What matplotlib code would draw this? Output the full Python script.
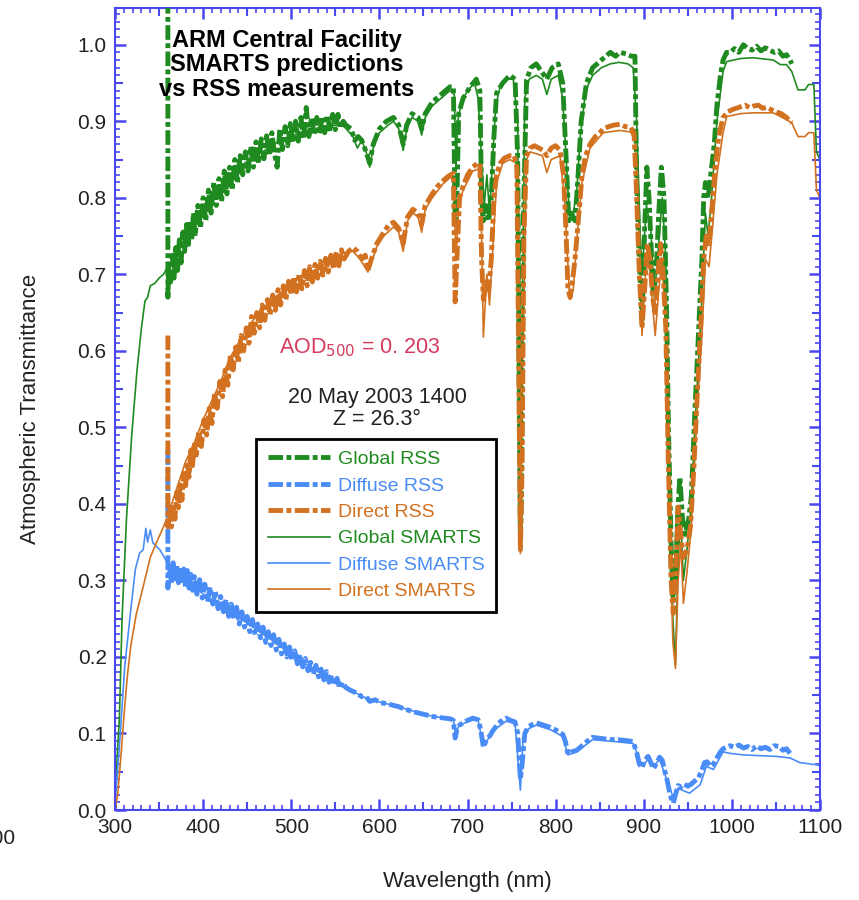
import numpy as np
import matplotlib
matplotlib.use('Agg')
import matplotlib.pyplot as plt
from matplotlib.ticker import MultipleLocator

plt.rcParams['font.family'] = ['Liberation Sans', 'DejaVu Sans']

# --- Data (wavelength nm, transmittance) ---
global_smarts = [
    (300, 0.02), (305, 0.12), (308, 0.25), (313, 0.38), (319, 0.49), (325, 0.575),
    (330, 0.63), (334, 0.665), (337, 0.67), (340, 0.685), (345, 0.688), (350, 0.695),
    (355, 0.70), (360, 0.71), (370, 0.725), (380, 0.75), (390, 0.765), (400, 0.785),
    (410, 0.80), (420, 0.815), (430, 0.825), (440, 0.835), (450, 0.845), (460, 0.855),
    (470, 0.862), (480, 0.87), (490, 0.876), (500, 0.88), (510, 0.885), (520, 0.888),
    (530, 0.89), (540, 0.892), (550, 0.895), (560, 0.893), (570, 0.88), (575, 0.865),
    (580, 0.875), (585, 0.86), (589, 0.84), (593, 0.865), (600, 0.885), (610, 0.895),
    (616, 0.90), (622, 0.89), (627, 0.862), (631, 0.89), (637, 0.905), (644, 0.90),
    (648, 0.882), (652, 0.905), (660, 0.92), (670, 0.93), (680, 0.94), (685, 0.935),
    (687, 0.84), (689, 0.90), (693, 0.925), (700, 0.94), (708, 0.95), (712, 0.93),
    (716, 0.85), (719, 0.79), (722, 0.83), (725, 0.78), (728, 0.84), (732, 0.92),
    (737, 0.945), (745, 0.955), (752, 0.955), (757, 0.90), (760, 0.36), (762, 0.62),
    (765, 0.93), (770, 0.955), (778, 0.96), (785, 0.955), (790, 0.935), (795, 0.955),
    (803, 0.96), (808, 0.93), (812, 0.85), (816, 0.77), (820, 0.78), (824, 0.81),
    (828, 0.88), (834, 0.94), (842, 0.96), (852, 0.97), (862, 0.975), (872, 0.977),
    (882, 0.975), (888, 0.97), (892, 0.90), (896, 0.75), (898, 0.70), (903, 0.79),
    (908, 0.76), (912, 0.67), (917, 0.74), (921, 0.80), (925, 0.72), (929, 0.45),
    (933, 0.25), (936, 0.19), (939, 0.33), (942, 0.38), (945, 0.30), (949, 0.34),
    (954, 0.40), (958, 0.50), (962, 0.58), (966, 0.67), (970, 0.78), (973, 0.75),
    (977, 0.80), (983, 0.90), (990, 0.965), (994, 0.978), (1010, 0.982), (1024, 0.983),
    (1047, 0.98), (1055, 0.974), (1062, 0.974), (1068, 0.965), (1075, 0.941),
    (1083, 0.941), (1087, 0.948), (1093, 0.948), (1096, 0.86), (1100, 0.85),
]

direct_smarts = [
    (300, 0.0), (303, 0.02), (306, 0.06), (310, 0.12), (314, 0.175), (318, 0.215),
    (324, 0.255), (332, 0.292), (340, 0.33), (348, 0.352), (355, 0.37), (360, 0.385),
    (370, 0.42), (380, 0.455), (390, 0.48), (400, 0.51), (410, 0.535), (420, 0.56),
    (430, 0.59), (440, 0.61), (450, 0.63), (460, 0.645), (470, 0.655), (480, 0.668),
    (490, 0.678), (500, 0.688), (510, 0.695), (520, 0.70), (530, 0.708), (540, 0.715),
    (550, 0.722), (560, 0.728), (570, 0.73), (578, 0.72), (587, 0.703), (597, 0.736),
    (605, 0.75), (616, 0.762), (622, 0.755), (627, 0.73), (632, 0.77), (638, 0.78),
    (644, 0.775), (648, 0.755), (652, 0.785), (660, 0.80), (672, 0.818), (680, 0.826),
    (684, 0.828), (687, 0.72), (690, 0.79), (695, 0.81), (706, 0.835), (714, 0.838),
    (716, 0.75), (718, 0.618), (722, 0.70), (725, 0.66), (729, 0.74), (733, 0.82),
    (740, 0.845), (748, 0.85), (756, 0.845), (760, 0.335), (763, 0.60), (767, 0.85),
    (771, 0.86), (785, 0.855), (790, 0.833), (795, 0.85), (805, 0.855), (810, 0.80),
    (816, 0.667), (820, 0.68), (824, 0.745), (830, 0.82), (839, 0.865), (854, 0.885),
    (873, 0.888), (885, 0.886), (890, 0.875), (894, 0.78), (898, 0.62), (902, 0.70),
    (906, 0.72), (910, 0.66), (913, 0.62), (917, 0.68), (921, 0.72), (925, 0.62),
    (929, 0.40), (933, 0.22), (936, 0.185), (939, 0.30), (942, 0.35), (945, 0.27),
    (949, 0.31), (954, 0.37), (958, 0.46), (962, 0.55), (966, 0.62), (970, 0.72),
    (974, 0.71), (978, 0.76), (983, 0.83), (990, 0.885), (994, 0.906), (1010, 0.91),
    (1024, 0.911), (1047, 0.911), (1062, 0.902), (1068, 0.898), (1075, 0.88),
    (1083, 0.88), (1087, 0.885), (1093, 0.885), (1096, 0.81), (1100, 0.80),
]

diffuse_smarts = [
    (300, 0.007), (306, 0.10), (311, 0.187), (317, 0.252), (323, 0.314), (328, 0.336),
    (332, 0.34), (335, 0.368), (337, 0.35), (340, 0.366), (343, 0.349), (351, 0.34),
    (359, 0.324), (370, 0.31), (385, 0.298), (400, 0.282), (408, 0.275), (445, 0.248),
    (483, 0.218), (521, 0.187), (559, 0.161), (589, 0.144), (615, 0.137), (654, 0.124),
    (684, 0.118), (686, 0.10), (691, 0.111), (706, 0.118), (712, 0.117), (718, 0.085),
    (723, 0.092), (729, 0.104), (744, 0.116), (754, 0.113), (760, 0.026), (763, 0.09),
    (769, 0.106), (778, 0.111), (794, 0.105), (808, 0.096), (814, 0.072), (824, 0.076),
    (842, 0.092), (862, 0.09), (888, 0.087), (898, 0.058), (905, 0.066), (911, 0.057),
    (918, 0.066), (926, 0.04), (933.5, 0.016), (939, 0.028), (952, 0.022), (964, 0.033),
    (971, 0.057), (979, 0.053), (990, 0.076), (998, 0.074), (1013, 0.072),
    (1051, 0.07), (1066, 0.068), (1077, 0.062), (1096, 0.059), (1100, 0.058),
]

global_rss = [
    (360, 1.10), (360, 0.67), (361, 0.71), (363, 0.69), (365, 0.725), (367, 0.695),
    (369, 0.735), (371, 0.705), (373, 0.745), (375, 0.715), (377, 0.755), (379, 0.73),
    (381, 0.765), (383, 0.735), (385, 0.77), (387, 0.745), (389, 0.78), (391, 0.75),
    (394, 0.79), (397, 0.76), (400, 0.80), (403, 0.77), (406, 0.81), (409, 0.78),
    (412, 0.82), (415, 0.79), (418, 0.825), (421, 0.795), (424, 0.835), (427, 0.805),
    (430, 0.84), (433, 0.81), (436, 0.85), (439, 0.82), (442, 0.855), (445, 0.83),
    (448, 0.86), (451, 0.835), (454, 0.867), (457, 0.84), (460, 0.873), (463, 0.845),
    (466, 0.877), (469, 0.851), (472, 0.881), (475, 0.855), (478, 0.885), (481, 0.858),
    (484, 0.84), (487, 0.89), (490, 0.863), (493, 0.893), (496, 0.868), (499, 0.897),
    (502, 0.872), (505, 0.90), (508, 0.874), (511, 0.905), (514, 0.877), (517, 0.918),
    (520, 0.88), (523, 0.905), (526, 0.882), (529, 0.905), (532, 0.883), (535, 0.906),
    (538, 0.885), (541, 0.908), (544, 0.887), (547, 0.909), (550, 0.889), (553, 0.909),
    (556, 0.892), (559, 0.90), (562, 0.895), (568, 0.89), (572, 0.875), (576, 0.88),
    (580, 0.875), (585, 0.86), (589, 0.845), (593, 0.87), (600, 0.89), (608, 0.90),
    (616, 0.905), (622, 0.895), (627, 0.87), (631, 0.895), (637, 0.91), (644, 0.905),
    (648, 0.89), (652, 0.91), (660, 0.925), (670, 0.935), (680, 0.945), (684, 0.945),
    (686, 0.77), (688, 0.80), (690, 0.91), (695, 0.93), (703, 0.945), (710, 0.955),
    (714, 0.94), (716, 0.80), (718, 0.77), (721, 0.79), (724, 0.77), (727, 0.80),
    (730, 0.88), (733, 0.937), (740, 0.95), (748, 0.96), (754, 0.955), (757, 0.85),
    (759, 0.50), (760, 0.36), (761, 0.40), (763, 0.75), (767, 0.954), (772, 0.97),
    (778, 0.975), (784, 0.965), (790, 0.955), (796, 0.97), (803, 0.975), (808, 0.95),
    (812, 0.85), (815, 0.77), (818, 0.78), (822, 0.77), (825, 0.82), (829, 0.90),
    (835, 0.95), (842, 0.97), (852, 0.98), (862, 0.99), (868, 0.985), (873, 0.99),
    (880, 0.988), (886, 0.985), (890, 0.985), (892, 0.82), (895, 0.72), (898, 0.64),
    (901, 0.76), (903.5, 0.84), (906, 0.80), (909, 0.72), (911, 0.675), (914, 0.70),
    (917, 0.78), (920, 0.84), (923, 0.80), (926, 0.65), (928, 0.50), (931, 0.35),
    (933, 0.28), (936, 0.30), (939, 0.40), (941, 0.435), (944, 0.38), (947, 0.36),
    (951, 0.38), (954, 0.41), (958, 0.52), (962, 0.62), (966, 0.72), (968, 0.80),
    (970, 0.82), (973, 0.80), (976, 0.83), (980, 0.87), (983, 0.92), (987, 0.96),
    (990, 0.98), (994, 0.99), (998, 0.99), (1003, 0.995), (1008, 0.99), (1013, 1.0),
    (1018, 0.995), (1023, 0.993), (1028, 0.998), (1033, 0.992), (1038, 0.996),
    (1043, 0.993), (1048, 0.99), (1053, 0.992), (1058, 0.985), (1062, 0.987),
    (1066, 0.98), (1068, 0.975),
]

direct_rss = [
    (360, 0.62), (360, 0.37), (362, 0.395), (364, 0.37), (366, 0.40), (368, 0.38),
    (370, 0.415), (372, 0.395), (374, 0.425), (376, 0.405), (378, 0.44), (380, 0.42),
    (382, 0.455), (384, 0.435), (386, 0.47), (388, 0.45), (390, 0.48), (392, 0.46),
    (395, 0.495), (398, 0.475), (401, 0.51), (404, 0.49), (407, 0.525), (410, 0.505),
    (413, 0.545), (416, 0.525), (419, 0.56), (422, 0.54), (425, 0.575), (428, 0.555),
    (431, 0.595), (434, 0.575), (437, 0.605), (440, 0.585), (443, 0.62), (446, 0.60),
    (449, 0.63), (452, 0.61), (455, 0.645), (458, 0.623), (461, 0.65), (464, 0.63),
    (467, 0.66), (470, 0.64), (473, 0.667), (476, 0.647), (479, 0.673), (482, 0.653),
    (485, 0.68), (488, 0.66), (491, 0.685), (494, 0.667), (497, 0.691), (500, 0.673),
    (503, 0.697), (506, 0.677), (509, 0.701), (512, 0.681), (515, 0.705), (518, 0.685),
    (521, 0.71), (524, 0.69), (527, 0.713), (530, 0.695), (533, 0.717), (536, 0.699),
    (539, 0.721), (542, 0.703), (545, 0.725), (548, 0.707), (551, 0.729), (554, 0.711),
    (557, 0.732), (560, 0.72), (565, 0.73), (570, 0.735), (575, 0.73), (580, 0.72),
    (584, 0.725), (587, 0.705), (591, 0.72), (597, 0.74), (605, 0.755), (611, 0.765),
    (616, 0.768), (622, 0.76), (627, 0.74), (632, 0.775), (638, 0.785), (644, 0.78),
    (648, 0.765), (652, 0.79), (660, 0.805), (666, 0.815), (672, 0.822), (678, 0.828),
    (684, 0.832), (686, 0.664), (688, 0.72), (691, 0.80), (695, 0.815), (700, 0.83),
    (706, 0.84), (711, 0.845), (714, 0.845), (716, 0.72), (718, 0.667), (721, 0.69),
    (724, 0.68), (727, 0.72), (730, 0.80), (733, 0.83), (737, 0.845), (742, 0.852),
    (748, 0.855), (753, 0.855), (756, 0.84), (758, 0.60), (760, 0.34), (762, 0.45),
    (764, 0.75), (767, 0.855), (771, 0.865), (776, 0.868), (781, 0.865), (786, 0.862),
    (790, 0.855), (795, 0.865), (800, 0.868), (805, 0.862), (809, 0.83), (812, 0.75),
    (814, 0.68), (816.5, 0.67), (819, 0.69), (822, 0.72), (825, 0.76), (830, 0.83),
    (834, 0.855), (839, 0.87), (845, 0.88), (850, 0.885), (854, 0.89), (860, 0.893),
    (866, 0.895), (873, 0.896), (879, 0.893), (885, 0.892), (889, 0.885), (892, 0.80),
    (895, 0.70), (898, 0.63), (901, 0.68), (904, 0.74), (907, 0.72), (910, 0.67),
    (913, 0.65), (916, 0.70), (919, 0.74), (922, 0.70), (925, 0.63), (928, 0.45),
    (931, 0.30), (933.5, 0.257), (936, 0.30), (939, 0.396), (942, 0.36), (945, 0.33),
    (949, 0.34), (953, 0.37), (957, 0.45), (961, 0.55), (965, 0.64), (968, 0.72),
    (971, 0.75), (974, 0.74), (977, 0.78), (981, 0.84), (985, 0.88), (990, 0.905),
    (995, 0.912), (1000, 0.915), (1005, 0.917), (1010, 0.919), (1015, 0.921),
    (1020, 0.918), (1025, 0.92), (1030, 0.921), (1035, 0.917), (1040, 0.918),
    (1045, 0.915), (1051, 0.912), (1056, 0.91), (1062, 0.905), (1066, 0.90), (1068, 0.898),
]

diffuse_rss = [
    (360, 0.47), (360, 0.29), (362, 0.318), (364, 0.297), (366, 0.323), (368, 0.302),
    (370, 0.321), (372, 0.297), (374, 0.318), (376, 0.295), (378, 0.315), (380, 0.292),
    (382, 0.313), (384, 0.29), (386, 0.308), (388, 0.287), (390, 0.305), (393, 0.282),
    (396, 0.301), (399, 0.277), (402, 0.295), (405, 0.272), (408, 0.291), (411, 0.269),
    (414, 0.285), (417, 0.263), (420, 0.279), (423, 0.259), (426, 0.275), (429, 0.253),
    (432, 0.269), (435, 0.249), (438, 0.265), (441, 0.243), (444, 0.259), (447, 0.239),
    (450, 0.253), (453, 0.233), (456, 0.249), (459, 0.229), (462, 0.243), (465, 0.225),
    (468, 0.239), (471, 0.219), (474, 0.233), (477, 0.215), (480, 0.229), (483, 0.209),
    (486, 0.223), (489, 0.204), (492, 0.217), (495, 0.200), (498, 0.213), (501, 0.195),
    (504, 0.208), (507, 0.191), (510, 0.203), (513, 0.187), (516, 0.198), (519, 0.182),
    (522, 0.193), (525, 0.177), (528, 0.189), (531, 0.174), (534, 0.184), (537, 0.170),
    (540, 0.181), (543, 0.167), (546, 0.176), (549, 0.163), (552, 0.172), (555, 0.159),
    (558, 0.167), (562, 0.16), (568, 0.156), (574, 0.153), (580, 0.148), (585, 0.148),
    (589, 0.142), (595, 0.144), (602, 0.14), (609, 0.139), (615, 0.137), (622, 0.135),
    (628, 0.132), (634, 0.13), (640, 0.128), (647, 0.126), (654, 0.124), (661, 0.122),
    (668, 0.121), (676, 0.12), (681, 0.119), (684, 0.117), (686, 0.094), (688, 0.105),
    (691, 0.111), (698, 0.116), (706, 0.12), (712, 0.118), (715, 0.105), (718, 0.082),
    (721, 0.09), (723, 0.094), (726, 0.098), (729, 0.104), (735, 0.113), (740, 0.118),
    (744, 0.12), (749, 0.117), (754, 0.115), (757, 0.10), (760, 0.04), (762, 0.06),
    (765, 0.10), (769, 0.109), (774, 0.112), (778, 0.114), (786, 0.111), (794, 0.108),
    (801, 0.104), (808, 0.099), (811, 0.09), (814, 0.073), (818, 0.076), (824, 0.078),
    (830, 0.084), (836, 0.09), (842, 0.095), (848, 0.094), (855, 0.093), (862, 0.092),
    (870, 0.092), (878, 0.091), (885, 0.09), (888, 0.089), (892, 0.075), (895, 0.06),
    (898, 0.055), (901, 0.065), (905, 0.07), (908, 0.062), (911, 0.054), (914, 0.06),
    (918, 0.069), (921, 0.065), (924, 0.05), (926, 0.042), (929, 0.025), (932, 0.012),
    (933.5, 0.009), (936, 0.02), (939, 0.032), (942, 0.03), (946, 0.034), (950, 0.031),
    (954, 0.034), (958, 0.038), (962, 0.042), (966, 0.052), (969, 0.062), (972, 0.063),
    (975, 0.057), (979, 0.06), (983, 0.068), (987, 0.076), (990, 0.08), (994, 0.082),
    (998, 0.084), (1003, 0.082), (1008, 0.085), (1013, 0.081), (1018, 0.083),
    (1023, 0.079), (1028, 0.084), (1033, 0.08), (1038, 0.082), (1043, 0.079),
    (1048, 0.084), (1054, 0.083), (1058, 0.078), (1062, 0.08), (1066, 0.074),
]

labels = ['Global RSS', 'Diffuse RSS', 'Direct RSS',
          'Global SMARTS', 'Diffuse SMARTS', 'Direct SMARTS']

# --- Style ---
green = '#1f8a1f'
blue = '#4a8cf6'
orange = '#d2711f'
frame = '#4848ee'
rss_style = (0, (3, 0.7, 1, 0.7))

fig = plt.figure(figsize=(8.59, 9.0), dpi=100)
ax = fig.add_axes([115 / 859, 90 / 900, 705 / 859, 802 / 900])

handles = {}
for name, data, col in [('Global SMARTS', global_smarts, green),
                        ('Diffuse SMARTS', diffuse_smarts, blue),
                        ('Direct SMARTS', direct_smarts, orange)]:
    w, t = np.array(data).T
    handles[name], = ax.plot(w, t, color=col, lw=1.2, zorder=2, label=name)

for name, data, col in [('Global RSS', global_rss, green),
                        ('Diffuse RSS', diffuse_rss, blue),
                        ('Direct RSS', direct_rss, orange)]:
    w, t = np.array(data).T
    handles[name], = ax.plot(w, t, color=col, lw=3.5, ls=rss_style, zorder=3, label=name)

ax.set_xlim(300, 1100)
ax.set_ylim(0, 1.048)

# --- Axes / ticks ---
for s in ax.spines.values():
    s.set_color(frame)
    s.set_linewidth(1.5)
ax.xaxis.set_major_locator(MultipleLocator(100))
ax.xaxis.set_minor_locator(MultipleLocator(10))
ax.yaxis.set_major_locator(MultipleLocator(0.1))
ax.yaxis.set_minor_locator(MultipleLocator(0.01))
ax.yaxis.set_major_formatter(plt.FuncFormatter(lambda v, p: f'{v:.1f}'))
ax.tick_params(which='both', direction='in', top=True, right=True, color=frame,
               labelsize=15, labelcolor='#222222')
ax.tick_params(which='major', length=8, width=1.8, pad=6)
ax.tick_params(which='minor', length=3.5, width=1.2)

# mid ticks at the 50s
for side in ['bottom', 'top']:
    sx = ax.secondary_xaxis(side)
    sx.set_xticks(np.arange(350, 1100, 100))
    sx.tick_params(direction='in', length=5.5, width=1.5, color=frame,
                   labelbottom=False, labeltop=False)
    sx.spines[side].set_visible(False)
for side in ['left', 'right']:
    sy = ax.secondary_yaxis(side)
    sy.set_yticks(np.arange(0.05, 1.05, 0.1))
    sy.tick_params(direction='in', length=5.5, width=1.5, color=frame,
                   labelleft=False, labelright=False)
    sy.spines[side].set_visible(False)

ax.set_xlabel('Wavelength (nm)', fontsize=16, color='#222222', labelpad=24)
ax.set_ylabel('Atmospheric Transmittance', fontsize=16, color='#222222', labelpad=26)

# --- Annotations ---
ax.text(0.244, 0.929, 'ARM Central Facility\nSMARTS predictions\nvs RSS measurements',
        transform=ax.transAxes, ha='center', va='center', fontsize=17,
        fontweight='bold', linespacing=1.1, zorder=5)
ax.text(0.3475, 0.576, 'AOD$_{500}$ = 0. 203', transform=ax.transAxes,
        ha='center', va='center', fontsize=15.5, color='#d63a5c')
ax.text(0.372, 0.501, '20 May 2003 1400\nZ = 26.3°', transform=ax.transAxes,
        ha='center', va='center', fontsize=15.5, color='#222222', linespacing=1.05)

leg = ax.legend([handles[l] for l in labels], labels, loc='upper left',
                bbox_to_anchor=(0.2, 0.4626), borderaxespad=0, fontsize=14,
                labelcolor='linecolor', handlelength=3.2, handletextpad=0.4,
                labelspacing=0.45, borderpad=0.6, fancybox=False, framealpha=1)
leg.get_frame().set_edgecolor('black')
leg.get_frame().set_linewidth(2)
leg.set_zorder(6)

# clipped tick label at the far left edge, as in the original figure
fig.text(15 / 859, 1 - 838 / 900, '300', ha='right', va='center', fontsize=15,
         color='#222222')

fig.savefig('out.png', dpi=100)
